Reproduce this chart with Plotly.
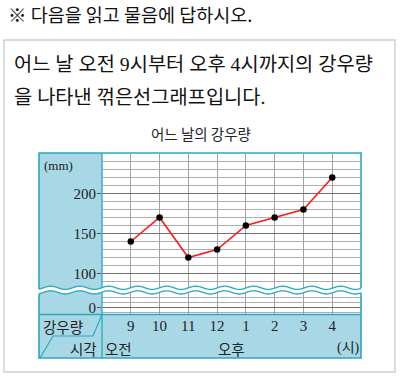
import math
import plotly.graph_objects as go

# ---- data ----
hour_labels = ["9", "10", "11", "12", "1", "2", "3", "4"]
rainfall_mm = [140, 170, 120, 130, 160, 170, 180, 220]
y_tick_vals = [100, 150, 200]
y_tick_text = ["100", "150", "200"]
low_tick_vals = [0]
low_tick_text = ["0"]

W, H = 400, 376
TEAL = "#2aa8c0"
PANEL = "#a8d8e5"
SERIF = "Liberation Serif, Noto Sans CJK KR"
SANS = "Noto Sans CJK KR"


def px(x):
    return x / W


def py(y):
    return 1 - y / H


x_idx = list(range(len(hour_labels)))

fig = go.Figure()
fig.add_trace(go.Scatter(
    x=x_idx, y=rainfall_mm, mode="lines+markers",
    line=dict(color="#ff1a1a", width=1.6),
    marker=dict(color="black", size=6.5),
    xaxis="x", yaxis="y", hoverinfo="skip", showlegend=False))
fig.add_trace(go.Scatter(
    x=[None], y=[None], mode="markers", xaxis="x", yaxis="y2",
    showlegend=False, hoverinfo="skip"))

shapes = []
shapes.append(dict(type="rect", xref="paper", yref="paper",
                   x0=px(4), x1=px(395), y0=py(372), y1=py(40),
                   line=dict(color="#cfcfcf", width=1.5), layer="below"))
shapes.append(dict(type="rect", xref="paper", yref="paper",
                   x0=px(39), x1=px(102), y0=py(314.5), y1=py(153),
                   fillcolor=PANEL, line=dict(width=0), layer="below"))
shapes.append(dict(type="rect", xref="paper", yref="paper",
                   x0=px(39), x1=px(361), y0=py(358), y1=py(314.5),
                   fillcolor=PANEL, line=dict(width=0), layer="below"))
shapes.append(dict(type="rect", xref="paper", yref="paper",
                   x0=px(39), x1=px(361), y0=py(358), y1=py(153),
                   line=dict(color=TEAL, width=1.6), layer="above"))
shapes.append(dict(type="line", xref="paper", yref="paper",
                   x0=px(102), x1=px(102), y0=py(358), y1=py(153),
                   line=dict(color=TEAL, width=1.3), layer="above"))
shapes.append(dict(type="line", xref="paper", yref="paper",
                   x0=px(39), x1=px(361), y0=py(314.5), y1=py(314.5),
                   line=dict(color=TEAL, width=1.3), layer="above"))
diag = [(102, 314.5), (93, 336), (53, 336), (40, 358)]
shapes.append(dict(type="path", xref="paper", yref="paper",
                   path="M " + " L ".join(f"{px(a):.5f},{py(b):.5f}" for a, b in diag),
                   line=dict(color=TEAL, width=1.2), layer="above"))

period, amp, x0w = 29.0, 1.6, 116.0
xs = [37 + i * 0.5 for i in range(int((363 - 37) / 0.5) + 1)]


def wy(x, c):
    return c + amp * math.sin(2 * math.pi * (x - x0w) / period)


up = [(x, wy(x, 287.8)) for x in xs]
lo = [(x, wy(x, 292.4)) for x in xs]
band = up + lo[::-1]
shapes.append(dict(type="path", xref="paper", yref="paper",
                   path="M " + " L ".join(f"{px(a):.5f},{py(b):.5f}" for a, b in band) + " Z",
                   fillcolor="white", line=dict(width=0), layer="above"))
for pts in (up, lo):
    pts2 = [(a, b) for a, b in pts if 39 <= a <= 361]
    shapes.append(dict(type="path", xref="paper", yref="paper",
                       path="M " + " L ".join(f"{px(a):.5f},{py(b):.5f}" for a, b in pts2),
                       line=dict(color=TEAL, width=1.3), layer="above"))

ann = []


def text(t, x, y, size, family=SANS, anchor="left", color="#222"):
    ann.append(dict(text=t, x=px(x), y=py(y), xref="paper", yref="paper",
                    xanchor=anchor, yanchor="middle", showarrow=False,
                    font=dict(size=size, family=family, color=color)))


text("※ 다음을 읽고 물음에 답하시오.", 6, 13.5, 18.5, family=SANS, color="#111")
text("어느 날 오전 9시부터 오후 4시까지의 강우량", 12, 64, 19.8, family=SERIF, color="#111")
text("을 나타낸 꺾은선그래프입니다.", 12, 97, 19.8, family=SERIF, color="#111")
text("어느 날의 강우량", 201, 133, 14.5, anchor="center")
text("(mm)", 42, 165, 13, family=SERIF, anchor="left")
text("강우량", 63, 326, 14.5, anchor="center")
text("시각", 83.5, 348, 14.5, anchor="center")
text("오전", 118.5, 348, 14.5, anchor="center")
text("오후", 232, 348, 14.5, anchor="center")
text("(시)", 348, 348, 14, family=SERIF, anchor="center")

fig.update_layout(
    width=W, height=H, margin=dict(l=0, r=0, t=0, b=0),
    paper_bgcolor="white", plot_bgcolor="white",
    shapes=shapes, annotations=ann, showlegend=False,
    xaxis=dict(domain=[px(102), px(361)], range=[-1, 8],
               tickmode="array", tickvals=x_idx, ticktext=hour_labels,
               showgrid=True, gridcolor="#a0a0a0", gridwidth=1,
               zeroline=False, showline=False, ticks="",
               tickfont=dict(family=SERIF, size=15, color="#222"),
               anchor="y2", fixedrange=True),
    yaxis=dict(domain=[py(288), py(153.5)], range=[81.875, 250],
               tickmode="array", tickvals=y_tick_vals, ticktext=y_tick_text,
               showgrid=True, gridcolor="#707070", gridwidth=1,
               minor=dict(tickmode="linear", tick0=0, dtick=10, showgrid=True,
                          gridcolor="#adadad", gridwidth=1, ticks=""),
               ticks="outside", ticklen=4, tickcolor="#555",
               ticklabelstandoff=-2,
               zeroline=False, showline=False,
               tickfont=dict(family=SERIF, size=15, color="#222"),
               anchor="x", fixedrange=True),
    yaxis2=dict(domain=[py(314.5), py(292)], range=[-14, 31],
                tickmode="array", tickvals=low_tick_vals, ticktext=low_tick_text,
                showgrid=True, gridcolor="#707070", gridwidth=1,
                minor=dict(tickmode="linear", tick0=0, dtick=10, showgrid=True,
                           gridcolor="#adadad", gridwidth=1, ticks=""),
                ticks="outside", ticklen=4, tickcolor="#555",
                ticklabelstandoff=-2,
                zeroline=False, showline=False,
                tickfont=dict(family=SERIF, size=15, color="#222"),
                anchor="x", fixedrange=True),
)

fig.write_html("out.html", config={"displayModeBar": False},
               post_script="document.body.style.margin='0';document.body.style.overflow='hidden';")
